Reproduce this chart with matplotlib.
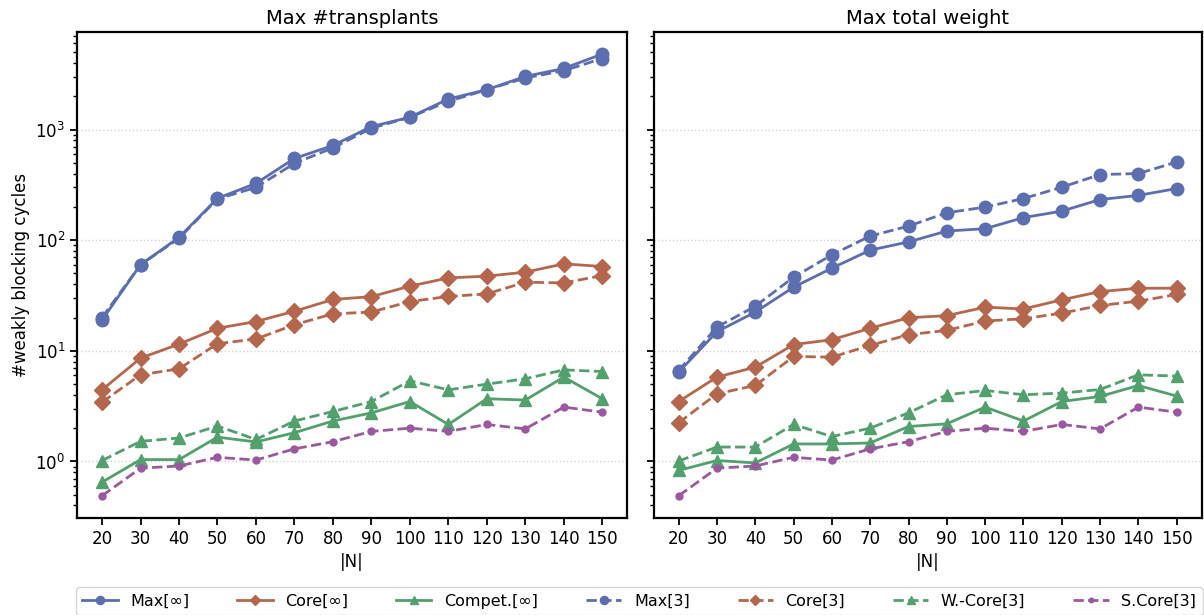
import numpy as np
import matplotlib.pyplot as plt

# ----------- Data ------------
N = [20, 30, 40, 50, 60, 70, 80, 90, 100, 110, 120, 130, 140, 150]

# Max #transplants objective
tr_max_inf = [19, 60, 106, 239, 326, 548, 718, 1064, 1291, 1890, 2291, 3020, 3566, 4810]
tr_core_inf = [4.44, 8.59, 11.5, 16.0, 18.4, 22.8, 29.1, 30.9, 38.4, 45.6, 47.3, 51.4, 61.1, 57.8]
tr_compet_inf = [0.65, 1.04, 1.04, 1.66, 1.50, 1.82, 2.32, 2.75, 3.48, 2.16, 3.69, 3.59, 5.79, 3.69]
tr_max_3 = [20, 60, 104, 236, 300, 494, 684, 1028, 1291, 1798, 2291, 2924, 3403, 4385]
tr_core_3 = [3.44, 6.07, 6.88, 11.6, 12.8, 17.2, 21.6, 22.4, 27.9, 31.0, 32.7, 41.7, 41.1, 47.9]
tr_wcore_3 = [1.02, 1.52, 1.63, 2.09, 1.58, 2.32, 2.83, 3.48, 5.36, 4.44, 5.0, 5.59, 6.73, 6.50]
tr_score_3 = [0.49, 0.87, 0.91, 1.09, 1.03, 1.30, 1.51, 1.87, 2.0, 1.87, 2.16, 1.97, 3.10, 2.79]

# Max total weight objective
wt_max_inf = [6.42, 14.9, 22.4, 37.6, 55.9, 81.3, 96.5, 121, 127, 160, 183, 233, 254, 293]
wt_core_inf = [3.48, 5.79, 7.12, 11.4, 12.6, 16.0, 19.9, 20.8, 24.8, 23.9, 28.9, 34.3, 36.8, 36.8]
wt_compet_inf = [0.83, 1.02, 0.97, 1.44, 1.44, 1.47, 2.07, 2.19, 3.10, 2.32, 3.48, 3.87, 4.86, 3.90]
wt_max_3 = [6.64, 16.4, 25.3, 46.3, 73.8, 109, 134, 177, 199, 238, 301, 392, 400, 509]
wt_core_3 = [2.24, 4.09, 4.86, 8.89, 8.77, 11.2, 14.0, 15.3, 18.6, 19.5, 21.9, 25.7, 28.1, 32.3]
wt_wcore_3 = [1.01, 1.35, 1.35, 2.16, 1.68, 2.0, 2.75, 4.01, 4.38, 4.01, 4.15, 4.47, 6.07, 5.91]
wt_score_3 = [0.49, 0.87, 0.91, 1.09, 1.03, 1.30, 1.51, 1.87, 2.0, 1.87, 2.16, 1.97, 3.10, 2.79]

labels = ["Max[∞]", "Core[∞]", "Compet.[∞]", "Max[3]", "Core[3]", "W.-Core[3]", "S.Core[3]"]
titles = ["Max #transplants", "Max total weight"]
# -----------------------------

BLUE = "#5a6eb0"
RED = "#b5674d"
GREEN = "#52a06c"
PURPLE = "#9b58a0"

# color, marker, linestyle, markersize per series
STYLES = [
    (BLUE, "o", "-", 9),
    (RED, "D", "-", 8),
    (GREEN, "^", "-", 9),
    (BLUE, "o", "--", 9),
    (RED, "D", "--", 8),
    (GREEN, "^", "--", 9),
    (PURPLE, "o", "--", 5),
]

panels = [
    [tr_max_inf, tr_core_inf, tr_compet_inf, tr_max_3, tr_core_3, tr_wcore_3, tr_score_3],
    [wt_max_inf, wt_core_inf, wt_compet_inf, wt_max_3, wt_core_3, wt_wcore_3, wt_score_3],
]

plt.rcParams["font.family"] = ["DejaVu Sans"]

fig = plt.figure(figsize=(12.04, 6.15), dpi=100)
ax1 = fig.add_axes([0.064, 0.158, 0.457, 0.790])
ax2 = fig.add_axes([0.543, 0.158, 0.455, 0.790], sharey=ax1)
axes = [ax1, ax2]

handles = []
for ax, series, title in zip(axes, panels, titles):
    for vals, (c, m, ls, ms), lab in zip(series, STYLES, labels):
        h, = ax.plot(N, vals, color=c, marker=m, linestyle=ls, markersize=ms,
                     linewidth=2, label=lab)
        if ax is ax1:
            handles.append(h)
    ax.set_yscale("log")
    ax.set_title(title, fontsize=14)
    ax.set_xticks(N)
    ax.set_xlabel("|N|", fontsize=12)
    ax.tick_params(axis="both", which="major", labelsize=12, width=1.3, length=5)
    ax.tick_params(axis="y", which="minor", width=1.0, length=3)
    for sp in ax.spines.values():
        sp.set_linewidth(1.6)
        sp.set_color("black")
    ax.grid(True, axis="y", which="major", linestyle=":", color="lightgray", linewidth=1)
    ax.set_axisbelow(True)

ax1.set_ylabel("#weakly blocking cycles", fontsize=12)
ax2.tick_params(axis="y", which="both", labelleft=False)

fig.legend(handles=handles, loc="upper center", bbox_to_anchor=(0.531, 0.058),
           ncol=7, fontsize=11.5, frameon=True, columnspacing=3.0,
           handlelength=2.2, markerscale=0.65)

fig.savefig("out.png", dpi=100)
